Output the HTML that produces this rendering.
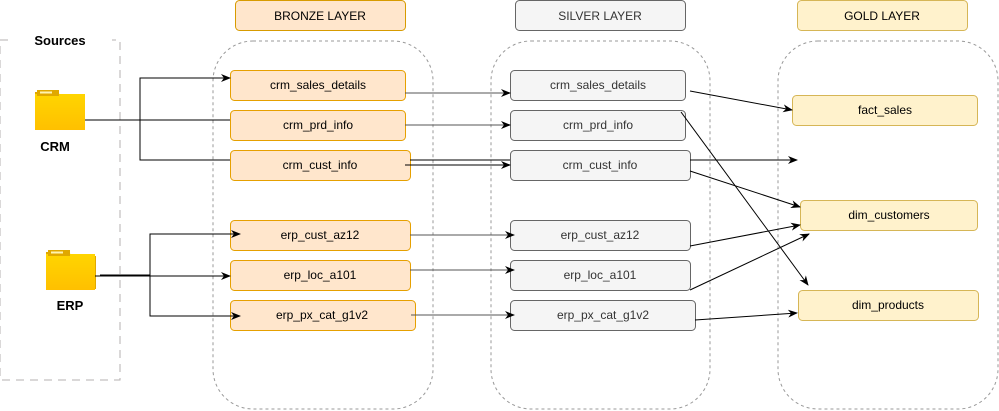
<!DOCTYPE html>
<html><head><meta charset="utf-8"><style>
html,body{margin:0;padding:0;background:#fff;}
svg{display:block;font-family:"Liberation Sans",Arial,sans-serif;}
</style></head><body>
<svg width="999" height="411" viewBox="0 0 999 411" xmlns="http://www.w3.org/2000/svg">
<defs>
<marker id="a" markerWidth="10" markerHeight="8" refX="9" refY="4" orient="auto" markerUnits="userSpaceOnUse">
<path d="M0,0 L10,4 L0,8 L3,4 Z" fill="#000"/></marker>
<linearGradient id="fg" x1="0" y1="0" x2="0" y2="1"><stop offset="0" stop-color="#ffd500"/><stop offset="1" stop-color="#ffc000"/></linearGradient>
</defs>
<!-- sources -->
<path d="M8,40 L0,40 L0,380 L120,380 L120,40 L112,40" fill="none" stroke="#b5b0b0" stroke-dasharray="8,6"/>
<text x="60" y="45" text-anchor="middle" font-size="13" font-weight="bold">Sources</text>
<!-- folders -->
<g transform="translate(35,90)"><path d="M0,2 h22 l5,4 h23 v33 h-50 z" fill="#e0a800"/><rect x="0" y="4" width="50" height="36" fill="url(#fg)"/><rect x="2" y="0" width="22" height="6" fill="#e0a800"/><rect x="5" y="1.5" width="12" height="2" fill="#fff3b0"/></g>
<text x="55" y="151" text-anchor="middle" font-size="13" font-weight="bold">CRM</text>
<g transform="translate(46,250)"><path d="M0,2 h22 l5,4 h23 v33 h-50 z" fill="#e0a800"/><rect x="0" y="4" width="49" height="36" fill="url(#fg)"/><rect x="2" y="0" width="22" height="6" fill="#e0a800"/><rect x="5" y="1.5" width="12" height="2" fill="#fff3b0"/></g>
<text x="70" y="310" text-anchor="middle" font-size="13" font-weight="bold">ERP</text>
<!-- layer containers -->
<rect x="213" y="41" width="220" height="368" rx="40" fill="none" stroke="#999" stroke-dasharray="3,3"/>
<rect x="491" y="41" width="219" height="368" rx="40" fill="none" stroke="#999" stroke-dasharray="3,3"/>
<rect x="778" y="41" width="220" height="368" rx="40" fill="none" stroke="#999" stroke-dasharray="3,3"/>
<!-- headers -->
<rect x="235.5" y="0.5" width="170" height="30" rx="4" fill="#ffe6cc" stroke="#d79b00"/>
<text x="320" y="20" text-anchor="middle" font-size="12">BRONZE LAYER</text>
<rect x="515.5" y="0.5" width="170" height="30" rx="4" fill="#f5f5f5" stroke="#666"/>
<text x="600" y="20" text-anchor="middle" font-size="12" fill="#333">SILVER LAYER</text>
<rect x="797.5" y="0.5" width="170" height="30" rx="4" fill="#fff2cc" stroke="#d6b656"/>
<text x="882" y="20" text-anchor="middle" font-size="12">GOLD LAYER</text>
<!-- bronze boxes -->
<g font-size="12" text-anchor="middle">
<rect x="230.5" y="70.5" width="175" height="30" rx="4" fill="#ffe6cc" stroke="#e6a000"/><text x="318" y="89">crm_sales_details</text>
<rect x="230.5" y="110.5" width="175" height="30" rx="4" fill="#ffe6cc" stroke="#e6a000"/><text x="318" y="129">crm_prd_info</text>
<rect x="230.5" y="150.5" width="180" height="30" rx="4" fill="#ffe6cc" stroke="#e6a000"/><text x="320" y="169">crm_cust_info</text>
<rect x="230.5" y="220.5" width="180" height="30" rx="4" fill="#ffe6cc" stroke="#e6a000"/><text x="320" y="239">erp_cust_az12</text>
<rect x="230.5" y="260.5" width="180" height="30" rx="4" fill="#ffe6cc" stroke="#e6a000"/><text x="320" y="279">erp_loc_a101</text>
<rect x="230.5" y="300.5" width="185" height="30" rx="4" fill="#ffe6cc" stroke="#e6a000"/><text x="322" y="319">erp_px_cat_g1v2</text>
</g>
<!-- silver boxes -->
<g font-size="12" text-anchor="middle" fill="#333">
<rect x="510.5" y="70.5" width="175" height="30" rx="4" fill="#f5f5f5" stroke="#666"/><text x="598" y="89">crm_sales_details</text>
<rect x="510.5" y="110.5" width="175" height="30" rx="4" fill="#f5f5f5" stroke="#666"/><text x="598" y="129">crm_prd_info</text>
<rect x="510.5" y="150.5" width="180" height="30" rx="4" fill="#f5f5f5" stroke="#666"/><text x="600" y="169">crm_cust_info</text>
<rect x="510.5" y="220.5" width="180" height="30" rx="4" fill="#f5f5f5" stroke="#666"/><text x="600" y="239">erp_cust_az12</text>
<rect x="510.5" y="260.5" width="180" height="30" rx="4" fill="#f5f5f5" stroke="#666"/><text x="600" y="279">erp_loc_a101</text>
<rect x="510.5" y="300.5" width="185" height="30" rx="4" fill="#f5f5f5" stroke="#666"/><text x="603" y="319">erp_px_cat_g1v2</text>
</g>
<!-- gold boxes -->
<g font-size="12" text-anchor="middle">
<rect x="792.5" y="95.5" width="185" height="30" rx="4" fill="#fff2cc" stroke="#d6b656"/><text x="885" y="114">fact_sales</text>
<rect x="800.5" y="200.5" width="177" height="30" rx="4" fill="#fff2cc" stroke="#d6b656"/><text x="889" y="219">dim_customers</text>
<rect x="798.5" y="290.5" width="180" height="30" rx="4" fill="#fff2cc" stroke="#d6b656"/><text x="888" y="309">dim_products</text>
</g>
<!-- connectors -->
<g fill="none" stroke="#000" stroke-width="1">
<path d="M85,120 H230"/>
<path d="M230,160 H140 V78 H230" marker-end="url(#a)"/>
<path d="M95,276 H230" marker-end="url(#a)"/>
<path d="M100,275 H150 V234 H240" marker-end="url(#a)"/>
<path d="M150,275 V316 H240" marker-end="url(#a)"/>
<path d="M405,93 H510" stroke="#555" marker-end="url(#a)"/>
<path d="M405,125 H510" stroke="#555" marker-end="url(#a)"/>
<path d="M405,165 H510" marker-end="url(#a)"/>
<path d="M410,160 H510"/>
<path d="M410,235 H514" stroke="#555" marker-end="url(#a)"/>
<path d="M410,270 H514" stroke="#555" marker-end="url(#a)"/>
<path d="M411,315 H514" stroke="#555" marker-end="url(#a)"/>
<path d="M690,91 L792,110" marker-end="url(#a)"/>
<path d="M681,112 L808,285" marker-end="url(#a)"/>
<path d="M690,160 L797,160" marker-end="url(#a)"/>
<path d="M690,171 L800,207" marker-end="url(#a)"/>
<path d="M690,246 L800,225" marker-end="url(#a)"/>
<path d="M690,290 L809,234" marker-end="url(#a)"/>
<path d="M695,320 L797,313" marker-end="url(#a)"/>
</g>
</svg>
</body></html>
